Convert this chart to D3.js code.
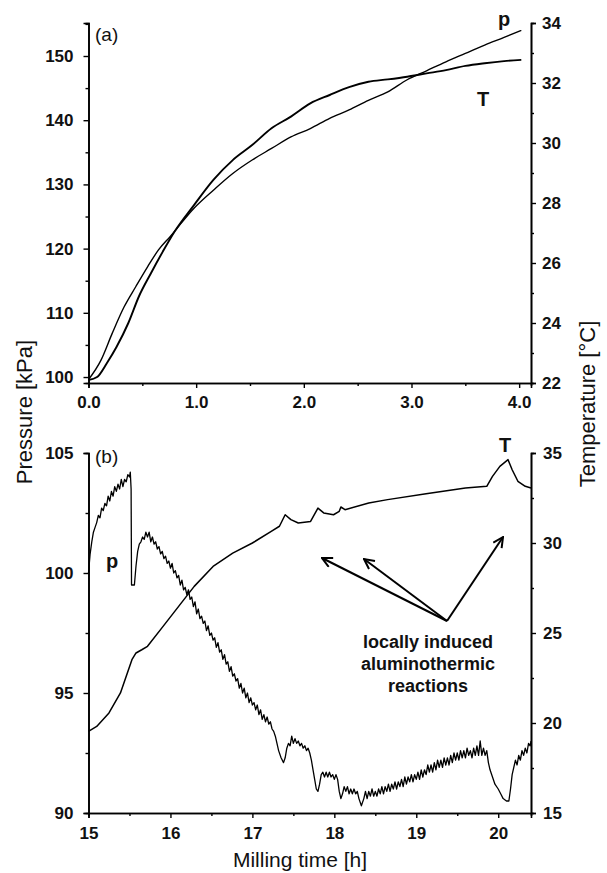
<!DOCTYPE html>
<html>
<head>
<meta charset="utf-8">
<script src="https://cdn.jsdelivr.net/npm/d3@7"></script>
<style>
  body { margin: 0; background: #fff; }
  svg { display: block; }
  text { font-family: "Liberation Sans", Arial, sans-serif; }
</style>
</head>
<body>
<div class="canvas"></div>
<script>
// ---- panel (a) data: 0-4 h ----
const aTimeP = [0, 0.115, 0.22, 0.33, 0.44, 0.55, 0.65, 0.76, 0.98, 1.16, 1.34, 1.52, 1.70, 1.88, 2.06, 2.24, 2.42, 2.60, 2.78, 2.96, 3.14, 3.32, 3.50, 3.68, 3.86, 4.02];
const aPressure = [99.6, 102.6, 106.8, 110.9, 114.1, 117.2, 119.8, 121.9, 126.3, 129.1, 131.7, 133.8, 135.6, 137.4, 138.7, 140.3, 141.6, 143.1, 144.4, 146.3, 147.7, 149.1, 150.4, 151.7, 152.9, 154.0];
const aTimeT = [0, 0.08, 0.17, 0.26, 0.37, 0.47, 0.58, 0.69, 0.80, 0.98, 1.16, 1.34, 1.52, 1.70, 1.88, 2.06, 2.24, 2.42, 2.60, 2.78, 2.96, 3.14, 3.32, 3.50, 3.68, 3.86, 4.02];
const aTemp = [22.1, 22.2, 22.66, 23.2, 24.0, 24.9, 25.66, 26.38, 27.05, 27.93, 28.77, 29.43, 29.93, 30.49, 30.88, 31.32, 31.6, 31.86, 32.04, 32.12, 32.21, 32.32, 32.43, 32.57, 32.66, 32.73, 32.77];

// ---- panel (b) data: 15-20.4 h ----
const bTimeP = [15.00, 15.02, 15.04, 15.06, 15.08, 15.10, 15.12, 15.14, 15.16, 15.18, 15.20, 15.22, 15.24, 15.26, 15.28, 15.30, 15.32, 15.34, 15.36, 15.38, 15.40, 15.42, 15.44, 15.46, 15.48, 15.50, 15.51, 15.52, 15.525, 15.56, 15.58, 15.60, 15.62, 15.64, 15.66, 15.68, 15.70, 15.72, 15.74, 15.76, 15.78, 15.80, 15.82, 15.84, 15.86, 15.88, 15.90, 15.92, 15.94, 15.96, 15.98,
  16.00, 16.02, 16.04, 16.06, 16.08, 16.10, 16.12, 16.14, 16.16, 16.18, 16.20, 16.22, 16.24, 16.26, 16.28, 16.30, 16.32, 16.34, 16.36, 16.38, 16.40, 16.42, 16.44, 16.46, 16.48, 16.50, 16.52, 16.54, 16.56, 16.58, 16.60, 16.62, 16.64, 16.66, 16.68, 16.70, 16.72, 16.74, 16.76, 16.78, 16.80, 16.82, 16.84, 16.86, 16.88, 16.90, 16.92, 16.94, 16.96, 16.98,
  17.00, 17.02, 17.04, 17.06, 17.08, 17.10, 17.12, 17.14, 17.16, 17.18, 17.20, 17.22, 17.24, 17.26, 17.28, 17.30, 17.32, 17.35, 17.38, 17.40, 17.42, 17.44, 17.46, 17.48, 17.50, 17.52, 17.54, 17.56, 17.58, 17.60, 17.62, 17.64, 17.66, 17.68, 17.70, 17.72, 17.74, 17.76, 17.78, 17.80, 17.82, 17.84, 17.86, 17.88, 17.90, 17.92, 17.94, 17.96, 17.98,
  18.00, 18.02, 18.04, 18.06, 18.08, 18.10, 18.12, 18.14, 18.16, 18.18, 18.20, 18.22, 18.24, 18.26, 18.28, 18.30, 18.33, 18.36, 18.38, 18.40, 18.42, 18.44, 18.46, 18.48, 18.50, 18.52, 18.54, 18.56, 18.58, 18.60, 18.62, 18.64, 18.66, 18.68, 18.70, 18.72, 18.74, 18.76, 18.78, 18.80, 18.82, 18.84, 18.86, 18.88, 18.90, 18.92, 18.94, 18.96, 18.98,
  19.00, 19.02, 19.04, 19.06, 19.08, 19.10, 19.12, 19.14, 19.16, 19.18, 19.20, 19.22, 19.24, 19.26, 19.28, 19.30, 19.32, 19.34, 19.36, 19.38, 19.40, 19.42, 19.44, 19.46, 19.48, 19.50, 19.52, 19.54, 19.56, 19.58, 19.60, 19.62, 19.64, 19.66, 19.68, 19.70, 19.72, 19.74, 19.76, 19.78, 19.80, 19.82, 19.84, 19.86, 19.88, 19.90, 19.93, 19.96,
  20.00, 20.03, 20.06, 20.10, 20.13, 20.15, 20.17, 20.19, 20.21, 20.23, 20.25, 20.27, 20.29, 20.31, 20.33, 20.35, 20.37, 20.39, 20.40];
const bPressure = [100.0, 100.8, 101.3, 101.7, 101.9, 102.1, 102.4, 102.3, 102.7, 102.6, 102.9, 102.8, 103.2, 103.0, 103.4, 103.2, 103.6, 103.4, 103.7, 103.5, 103.9, 103.6, 103.9, 103.8, 104.1, 104.0, 104.2, 103.5, 99.5, 99.5, 100.3, 100.9, 101.2, 101.3, 101.5, 101.4, 101.7, 101.5, 101.7, 101.3, 101.5, 101.2, 101.3, 101.0, 101.1, 100.8, 100.9, 100.6, 100.7, 100.4, 100.5,
  100.2, 100.4, 100.0, 100.1, 99.8, 99.9, 99.5, 99.7, 99.3, 99.4, 99.1, 99.3, 98.9, 99.0, 98.6, 98.8, 98.3, 98.5, 98.1, 98.2, 97.9, 98.0, 97.6, 97.8, 97.4, 97.5, 97.2, 97.3, 96.9, 97.1, 96.7, 96.8, 96.4, 96.6, 96.2, 96.3, 95.9, 96.1, 95.7, 95.8, 95.5, 95.6, 95.2, 95.4, 95.0, 95.2, 94.8, 95.0, 94.6, 94.8,
  94.5, 94.6, 94.3, 94.5, 94.1, 94.3, 93.9, 94.1, 93.8, 94.0, 93.7, 93.8, 93.5, 93.4, 93.2, 92.9, 92.6, 92.3, 92.1, 92.3, 92.7, 92.9, 92.8, 93.2, 92.9, 93.1, 92.9, 93.0, 92.8, 92.9, 92.7, 92.8, 92.6, 92.7, 92.5, 92.2, 91.8, 91.4, 91.0, 90.9, 91.2, 91.6, 91.7, 91.5, 91.7, 91.5, 91.7, 91.5, 91.6,
  91.4, 91.6, 91.4, 90.9, 90.6, 90.8, 91.1, 90.9, 91.1, 90.8, 91.0, 90.8, 91.0, 90.8, 90.9, 90.6, 90.3, 90.6, 90.9, 90.6, 90.9, 90.7, 91.0, 90.7, 90.9, 90.7, 91.0, 90.8, 91.1, 90.8, 91.1, 90.9, 91.2, 90.9, 91.2, 91.0, 91.3, 91.0, 91.3, 91.1, 91.4, 91.1, 91.5, 91.2, 91.5, 91.3, 91.6, 91.3, 91.6,
  91.4, 91.7, 91.4, 91.8, 91.5, 91.8, 91.6, 92.0, 91.7, 92.0, 91.7, 92.1, 91.8, 92.2, 91.9, 92.2, 91.9, 92.3, 92.0, 92.3, 92.0, 92.4, 92.1, 92.5, 92.2, 92.5, 92.2, 92.6, 92.3, 92.6, 92.3, 92.7, 92.4, 92.6, 92.3, 92.7, 92.4, 92.8, 92.4, 93.0, 92.4, 92.7, 92.4, 92.6, 92.1, 91.8, 91.5, 91.2,
  91.0, 90.8, 90.6, 90.5, 90.5, 91.0, 91.6, 91.9, 92.2, 92.0, 92.4, 92.2, 92.6, 92.4, 92.7, 92.5, 92.9, 92.8, 93.0];
const bTimeT = [15.0, 15.1, 15.25, 15.39, 15.53, 15.58, 15.65, 15.72, 15.91, 16.1, 16.29, 16.52, 16.76, 17.0, 17.23, 17.33, 17.4, 17.47, 17.56, 17.71, 17.8, 17.87, 17.99, 18.06, 18.08, 18.13, 18.42, 18.65, 19.12, 19.6, 19.86, 19.93, 20.02, 20.12, 20.17, 20.24, 20.33, 20.4];
const bTemp = [19.54, 19.81, 20.56, 21.67, 23.52, 23.89, 24.07, 24.26, 25.37, 26.48, 27.59, 28.7, 29.44, 30.0, 30.65, 30.93, 31.57, 31.3, 31.11, 31.2, 31.94, 31.67, 31.57, 31.76, 32.0, 31.85, 32.22, 32.41, 32.74, 33.06, 33.15, 33.7, 34.26, 34.63, 34.07, 33.43, 33.15, 33.06];

// tick values
const aXTicks = [0, 1, 2, 3, 4];
const aXMinor = [0.5, 1.5, 2.5, 3.5];
const aPTicks = [100, 110, 120, 130, 140, 150];
const aPMinor = [105, 115, 125, 135, 145, 155];
const aTTicks = [22, 24, 26, 28, 30, 32, 34];
const aTMinor = [23, 25, 27, 29, 31, 33];
const bXTicks = [15, 16, 17, 18, 19, 20];
const bXMinor = [15.5, 16.5, 17.5, 18.5, 19.5];
const bPTicks = [90, 95, 100, 105];
const bPMinor = [92.5, 97.5, 102.5];
const bTTicks = [15, 20, 25, 30, 35];
const bTMinor = [17.5, 22.5, 27.5, 32.5];

const svg = d3.select('.canvas')
  .append('svg')
    .attr('width', 607)
    .attr('height', 873);

const left = 88.5, right = 531;

// scales
const xa = d3.scaleLinear().domain([0, 4.11]).range([left, right]);
const ypa = d3.scaleLinear().domain([99.07, 155.14]).range([383, 23]);
const yta = d3.scaleLinear().domain([22, 34]).range([383, 23]);

const xb = d3.scaleLinear().domain([15, 20.4]).range([left, right]);
const ypb = d3.scaleLinear().domain([90, 105]).range([813, 453]);
const ytb = d3.scaleLinear().domain([15, 35]).range([813, 453]);

// axis helper
const drawAxis = (axis, transform, labels) => {
  const g = svg.append('g').attr('transform', transform).call(axis);
  g.select('.domain').attr('stroke-width', 1.6);
  g.selectAll('.tick line').attr('stroke-width', 1.4);
  g.selectAll('text')
    .attr('font-size', labels ? 17 : 0)
    .attr('font-weight', 'bold')
    .attr('font-family', '"Liberation Sans", Arial, sans-serif')
    .attr('fill', '#111');
  return g;
};

const minorAxis = (fn, scale, vals) => fn(scale).tickValues(vals).tickSize(3).tickFormat('');

// panel (a) axes
drawAxis(d3.axisBottom(xa).tickValues(aXTicks).tickSize(5).tickPadding(8).tickFormat(d3.format('.1f')), 'translate(0,383)', true);
drawAxis(minorAxis(d3.axisBottom, xa, aXMinor), 'translate(0,383)', false);
drawAxis(d3.axisLeft(ypa).tickValues(aPTicks).tickSize(5).tickPadding(10), `translate(${left},0)`, true);
drawAxis(minorAxis(d3.axisLeft, ypa, aPMinor), `translate(${left},0)`, false);
drawAxis(d3.axisRight(yta).tickValues(aTTicks).tickSize(5).tickPadding(6), `translate(${right},0)`, true);
drawAxis(minorAxis(d3.axisRight, yta, aTMinor), `translate(${right},0)`, false);

// panel (b) axes
drawAxis(d3.axisBottom(xb).tickValues(bXTicks).tickSize(5).tickPadding(9).tickFormat(d3.format('d')), 'translate(0,813)', true);
drawAxis(minorAxis(d3.axisBottom, xb, bXMinor), 'translate(0,813)', false);
drawAxis(d3.axisLeft(ypb).tickValues(bPTicks).tickSize(5).tickPadding(10), `translate(${left},0)`, true);
drawAxis(minorAxis(d3.axisLeft, ypb, bPMinor), `translate(${left},0)`, false);
drawAxis(d3.axisRight(ytb).tickValues(bTTicks).tickSize(5).tickPadding(7), `translate(${right},0)`, true);
drawAxis(minorAxis(d3.axisRight, ytb, bTMinor), `translate(${right},0)`, false);

// lines
const drawLine = (xs, ys, x, y, curve, width) => {
  const pts = xs.map((t, i) => [t, ys[i]]);
  svg.append('path')
    .datum(pts)
    .attr('fill', 'none')
    .attr('stroke', '#000')
    .attr('stroke-width', width)
    .attr('stroke-linejoin', 'round')
    .attr('d', d3.line().x(d => x(d[0])).y(d => y(d[1])).curve(curve));
};

drawLine(aTimeP, aPressure, xa, ypa, d3.curveMonotoneX, 1.4);
drawLine(aTimeT, aTemp, xa, yta, d3.curveMonotoneX, 1.9);
drawLine(bTimeP, bPressure, xb, ypb, d3.curveLinear, 1.3);
drawLine(bTimeT, bTemp, xb, ytb, d3.curveLinear, 1.5);

// text labels
const txt = (x, y, s, opts = {}) => svg.append('text')
  .attr('x', x).attr('y', y)
  .attr('font-size', opts.size || 16)
  .attr('font-weight', opts.bold ? 'bold' : 'normal')
  .attr('text-anchor', opts.anchor || 'start')
  .attr('fill', '#111')
  .attr('transform', opts.rotate ? `rotate(-90, ${x}, ${y})` : null)
  .text(s);

txt(95, 41, '(a)', {size: 19});
txt(95, 463, '(b)', {size: 19});
txt(504, 26, 'p', {bold: true, size: 20, anchor: 'middle'});
txt(483, 106, 'T', {bold: true, size: 20, anchor: 'middle'});
txt(112, 568, 'p', {bold: true, size: 20, anchor: 'middle'});
txt(505, 452, 'T', {bold: true, size: 20, anchor: 'middle'});

txt(428, 648, 'locally induced', {bold: true, size: 18, anchor: 'middle'});
txt(428, 670, 'aluminothermic', {bold: true, size: 18, anchor: 'middle'});
txt(428, 692, 'reactions', {bold: true, size: 18, anchor: 'middle'});

txt(300, 867, 'Milling time [h]', {size: 21, anchor: 'middle'});
txt(32, 412, 'Pressure [kPa]', {size: 22, anchor: 'middle', rotate: true});
txt(595, 404, 'Temperature [°C]', {size: 22, anchor: 'middle', rotate: true});

// arrows
svg.append('defs').append('marker')
  .attr('id', 'arr')
  .attr('viewBox', '0 0 12 12')
  .attr('refX', 11).attr('refY', 6)
  .attr('markerWidth', 12).attr('markerHeight', 12)
  .attr('markerUnits', 'userSpaceOnUse')
  .attr('orient', 'auto')
  .append('path')
    .attr('d', 'M1,1 L11,6 L1,11')
    .attr('fill', 'none')
    .attr('stroke', '#000')
    .attr('stroke-width', 2);

const arrowFrom = [447, 621];
const arrowTo = [[322, 558], [364, 559], [503, 537]];
arrowTo.forEach(p => {
  svg.append('line')
    .attr('x1', arrowFrom[0]).attr('y1', arrowFrom[1])
    .attr('x2', p[0]).attr('y2', p[1])
    .attr('stroke', '#000')
    .attr('stroke-width', 2)
    .attr('marker-end', 'url(#arr)');
});
</script>
</body>
</html>
